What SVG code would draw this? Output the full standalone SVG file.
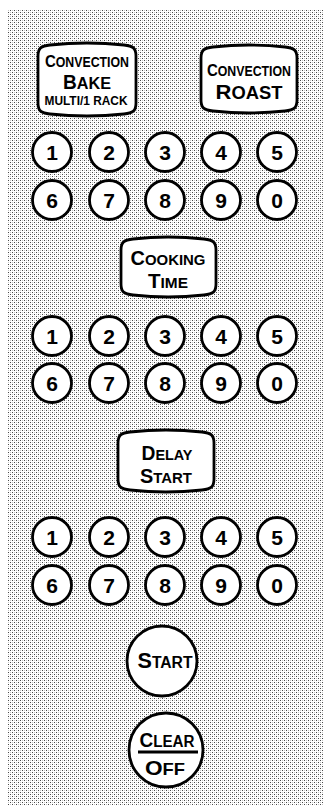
<svg xmlns="http://www.w3.org/2000/svg" width="324" height="806" viewBox="0 0 324 806">
<defs>
<pattern id="dots" x="0" y="0" width="4" height="4" patternUnits="userSpaceOnUse">
<rect width="4" height="4" fill="#ffffff"/>
<rect x="0" y="0" width="1" height="1" fill="#484848"/>
<rect x="2" y="2" width="1" height="1" fill="#484848"/>
<rect x="2" y="0" width="1" height="1" fill="#c4c4c4"/>
<rect x="0" y="2" width="1" height="1" fill="#c4c4c4"/>
</pattern>
</defs>
<style>
.btn{fill:#fff;stroke:#000;stroke-width:2.8}
.t{font-family:"Liberation Sans","Arial",sans-serif;font-weight:700;fill:#000;text-anchor:middle}
.d{font-family:"Liberation Sans","Arial",sans-serif;font-weight:700;fill:#000;text-anchor:middle;font-size:21px}
</style>
<rect x="7" y="9" width="317" height="797" fill="url(#dots)"/>

<g id="convection-bake">
<path class="btn" d="M38,56 C38,48 41,46 50,45 Q87,41 124,45 C133,46 136,48 136,56 L136,103 C136,111 133,113 124,114 Q87,118 50,114 C41,113 38,111 38,103 Z"/>
<text class="t" x="87" y="66.5" textLength="84" lengthAdjust="spacingAndGlyphs"><tspan font-size="17">C</tspan><tspan font-size="14">ONVECTION</tspan></text>
<text class="t" x="87" y="88.5" textLength="48" lengthAdjust="spacingAndGlyphs"><tspan font-size="20">B</tspan><tspan font-size="17">AKE</tspan></text>
<text class="t" x="86" y="105" font-size="12" textLength="83" lengthAdjust="spacingAndGlyphs">MULTI/1 RACK</text>
</g>

<g id="convection-roast">
<path class="btn" d="M201,58 C201,50 204,48 213,47 Q249,43 285,47 C294,48 297,50 297,58 L297,100 C297,108 294,110 285,111 Q249,115 213,111 C204,110 201,108 201,100 Z"/>
<text class="t" x="249" y="76" textLength="84" lengthAdjust="spacingAndGlyphs"><tspan font-size="17">C</tspan><tspan font-size="14">ONVECTION</tspan></text>
<text class="t" x="249" y="99" textLength="67" lengthAdjust="spacingAndGlyphs"><tspan font-size="21">R</tspan><tspan font-size="17.5">OAST</tspan></text>
</g>

<g id="keypad-1">
<g id="k1-1"><circle class="btn" cx="52" cy="152" r="19.5"/><text class="d" x="52" y="159.5">1</text></g>
<g id="k1-2"><circle class="btn" cx="109" cy="152" r="19.5"/><text class="d" x="109" y="159.5">2</text></g>
<g id="k1-3"><circle class="btn" cx="165" cy="152" r="19.5"/><text class="d" x="165" y="159.5">3</text></g>
<g id="k1-4"><circle class="btn" cx="221" cy="152" r="19.5"/><text class="d" x="221" y="159.5">4</text></g>
<g id="k1-5"><circle class="btn" cx="277" cy="152" r="19.5"/><text class="d" x="277" y="159.5">5</text></g>
<g id="k1-6"><circle class="btn" cx="52" cy="200" r="19.5"/><text class="d" x="52" y="207.5">6</text></g>
<g id="k1-7"><circle class="btn" cx="109" cy="200" r="19.5"/><text class="d" x="109" y="207.5">7</text></g>
<g id="k1-8"><circle class="btn" cx="165" cy="200" r="19.5"/><text class="d" x="165" y="207.5">8</text></g>
<g id="k1-9"><circle class="btn" cx="221" cy="200" r="19.5"/><text class="d" x="221" y="207.5">9</text></g>
<g id="k1-0"><circle class="btn" cx="277" cy="200" r="19.5"/><text class="d" x="277" y="207.5">0</text></g>
</g>

<g id="cooking-time">
<path class="btn" d="M121,250 C121,242 124,240 133,239 Q168,235 204,239 C213,240 216,242 216,250 L216,284 C216,292 213,294 204,295 Q168,299 133,295 C124,294 121,292 121,284 Z"/>
<text class="t" x="168" y="265" textLength="75" lengthAdjust="spacingAndGlyphs"><tspan font-size="20">C</tspan><tspan font-size="15">OOKING</tspan></text>
<text class="t" x="168" y="288" textLength="40" lengthAdjust="spacingAndGlyphs"><tspan font-size="20">T</tspan><tspan font-size="15">IME</tspan></text>
</g>

<g id="keypad-2">
<g id="k2-1"><circle class="btn" cx="52" cy="336" r="19.5"/><text class="d" x="52" y="343.5">1</text></g>
<g id="k2-2"><circle class="btn" cx="109" cy="336" r="19.5"/><text class="d" x="109" y="343.5">2</text></g>
<g id="k2-3"><circle class="btn" cx="165" cy="336" r="19.5"/><text class="d" x="165" y="343.5">3</text></g>
<g id="k2-4"><circle class="btn" cx="221" cy="336" r="19.5"/><text class="d" x="221" y="343.5">4</text></g>
<g id="k2-5"><circle class="btn" cx="277" cy="336" r="19.5"/><text class="d" x="277" y="343.5">5</text></g>
<g id="k2-6"><circle class="btn" cx="52" cy="383" r="19.5"/><text class="d" x="52" y="390.5">6</text></g>
<g id="k2-7"><circle class="btn" cx="109" cy="383" r="19.5"/><text class="d" x="109" y="390.5">7</text></g>
<g id="k2-8"><circle class="btn" cx="165" cy="383" r="19.5"/><text class="d" x="165" y="390.5">8</text></g>
<g id="k2-9"><circle class="btn" cx="221" cy="383" r="19.5"/><text class="d" x="221" y="390.5">9</text></g>
<g id="k2-0"><circle class="btn" cx="277" cy="383" r="19.5"/><text class="d" x="277" y="390.5">0</text></g>
</g>

<g id="delay-start">
<path class="btn" d="M118,443 C118,435 121,433 130,432 Q166,428 202,432 C211,433 214,435 214,443 L214,479 C214,487 211,489 202,490 Q166,494 130,490 C121,489 118,487 118,479 Z"/>
<text class="t" x="167" y="460" textLength="51" lengthAdjust="spacingAndGlyphs"><tspan font-size="20">D</tspan><tspan font-size="15">ELAY</tspan></text>
<text class="t" x="166" y="483" textLength="52" lengthAdjust="spacingAndGlyphs"><tspan font-size="20">S</tspan><tspan font-size="15">TART</tspan></text>
</g>

<g id="keypad-3">
<g id="k3-1"><circle class="btn" cx="52" cy="537" r="19.5"/><text class="d" x="52" y="544.5">1</text></g>
<g id="k3-2"><circle class="btn" cx="109" cy="537" r="19.5"/><text class="d" x="109" y="544.5">2</text></g>
<g id="k3-3"><circle class="btn" cx="165" cy="537" r="19.5"/><text class="d" x="165" y="544.5">3</text></g>
<g id="k3-4"><circle class="btn" cx="221" cy="537" r="19.5"/><text class="d" x="221" y="544.5">4</text></g>
<g id="k3-5"><circle class="btn" cx="277" cy="537" r="19.5"/><text class="d" x="277" y="544.5">5</text></g>
<g id="k3-6"><circle class="btn" cx="52" cy="585" r="19.5"/><text class="d" x="52" y="592.5">6</text></g>
<g id="k3-7"><circle class="btn" cx="109" cy="585" r="19.5"/><text class="d" x="109" y="592.5">7</text></g>
<g id="k3-8"><circle class="btn" cx="165" cy="585" r="19.5"/><text class="d" x="165" y="592.5">8</text></g>
<g id="k3-9"><circle class="btn" cx="221" cy="585" r="19.5"/><text class="d" x="221" y="592.5">9</text></g>
<g id="k3-0"><circle class="btn" cx="277" cy="585" r="19.5"/><text class="d" x="277" y="592.5">0</text></g>
</g>

<g id="start">
<circle class="btn" cx="162" cy="661" r="35"/>
<text class="t" x="165" y="668" textLength="55" lengthAdjust="spacingAndGlyphs"><tspan font-size="22">S</tspan><tspan font-size="16">TART</tspan></text>
</g>

<g id="clear-off">
<circle class="btn" cx="166" cy="750" r="37"/>
<text class="t" x="167" y="747" textLength="55" lengthAdjust="spacingAndGlyphs"><tspan font-size="20">C</tspan><tspan font-size="16">LEAR</tspan></text>
<line x1="138" y1="752" x2="198" y2="752" stroke="#000" stroke-width="3"/>
<text class="t" x="165" y="775" textLength="40" lengthAdjust="spacingAndGlyphs"><tspan font-size="21">O</tspan><tspan font-size="17">FF</tspan></text>
</g>
</svg>
